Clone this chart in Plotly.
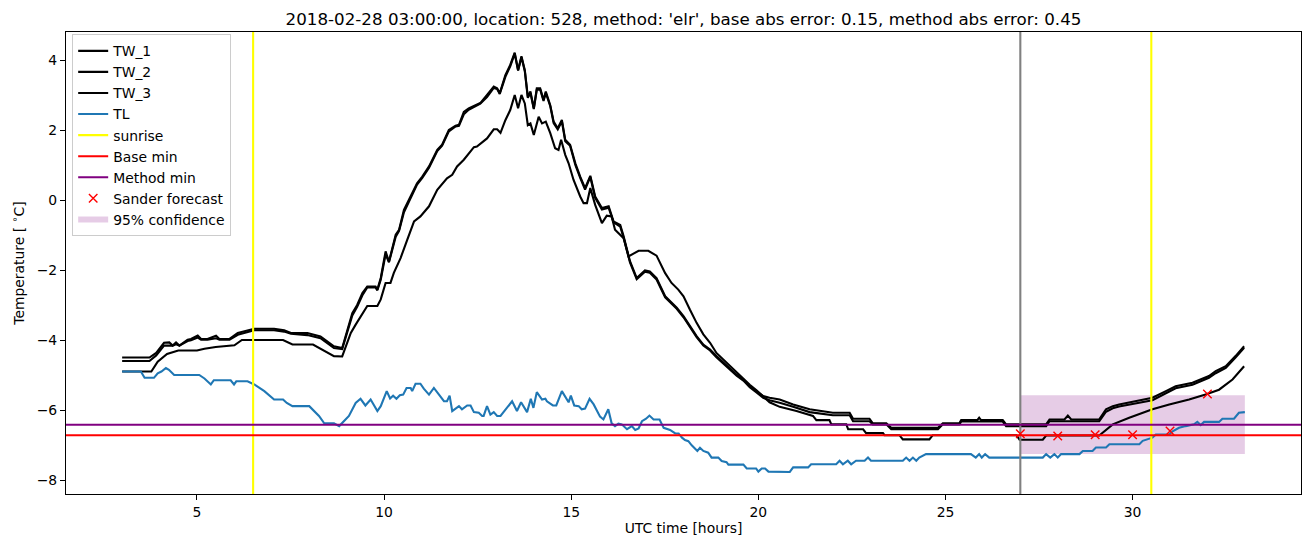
import plotly.graph_objects as go

# ---------------- data ----------------
tw12_time = [3.0, 3.73, 3.91, 4.12, 4.26, 4.35, 4.44, 4.53, 4.75, 4.84, 5.02, 5.11, 5.28, 5.51, 5.60, 5.87,
             6.09, 6.35, 6.53, 7.06, 7.33, 7.51, 7.95, 8.30, 8.66, 8.88, 9.02, 9.15, 9.28, 9.42, 9.55, 9.77,
             9.82, 9.91, 10.04, 10.13, 10.31, 10.40, 10.53, 10.71, 10.88, 11.02, 11.20, 11.42, 11.55, 11.73,
             11.91, 12.00, 12.13, 12.26, 12.44, 12.57, 12.75, 12.93, 13.02, 13.09, 13.24, 13.37, 13.49, 13.58,
             13.67, 13.76, 13.84, 13.91, 14.00, 14.08, 14.17, 14.26, 14.32, 14.44, 14.53, 14.64, 14.75, 14.84,
             14.97, 15.11, 15.24, 15.37, 15.51, 15.64, 15.82, 16.00, 16.13, 16.22, 16.31, 16.40, 16.57, 16.75,
             16.88, 16.97, 17.10, 17.28, 17.51, 17.60, 17.68, 17.82, 18.00, 18.17, 18.35, 18.53, 18.71, 18.88,
             19.24, 19.42, 19.60, 19.77, 19.95, 20.13, 20.30, 20.57, 20.93, 21.37, 21.99, 22.44, 22.53, 22.97,
             23.06, 23.42, 23.55, 24.80, 24.93, 25.37, 25.42, 25.85, 25.90, 25.95, 26.53, 26.62, 27.69, 27.78,
             28.18, 28.27, 28.36, 29.11, 29.29, 29.47, 29.64, 30.09, 30.53, 30.89, 31.15, 31.60, 32.04, 32.22,
             32.49, 32.75, 32.98]
tw1_vals = [-4.50, -4.50, -4.37, -4.08, -4.07, -4.16, -4.07, -4.16, -3.99, -3.97, -3.87, -3.97, -3.97, -3.88, -3.97, -3.97,
            -3.80, -3.72, -3.68, -3.68, -3.72, -3.80, -3.80, -3.90, -4.18, -4.23, -3.70, -3.23, -3.00, -2.66, -2.47, -2.47,
            -2.56, -2.23, -1.47, -1.76, -0.99, -0.85, -0.28, 0.10, 0.48, 0.67, 0.96, 1.43, 1.58, 2.00,
            2.12, 2.15, 2.52, 2.62, 2.72, 2.77, 3.00, 3.24, 3.19, 3.05, 3.57, 3.86, 4.21, 3.71,
            4.11, 3.71, 2.95, 3.10, 2.62, 3.19, 3.19, 2.86, 3.10, 2.71, 2.24, 2.05, 2.29, 1.72,
            1.58, 1.05, 0.67, 0.34, 0.69, 0.10, -0.23, -0.18, -0.61, -0.66, -0.71, -1.04, -1.75, -2.23,
            -2.10, -2.01, -2.04, -2.23, -2.75, -2.84, -2.94, -3.08, -3.32, -3.60, -3.89, -4.13, -4.27, -4.46,
            -4.80, -4.99, -5.13, -5.32, -5.46, -5.60, -5.65, -5.70, -5.84, -5.98, -6.08, -6.08, -6.25, -6.25,
            -6.38, -6.38, -6.51, -6.51, -6.38, -6.38, -6.29, -6.29, -6.22, -6.29, -6.29, -6.41, -6.41, -6.27,
            -6.27, -6.16, -6.27, -6.27, -5.98, -5.89, -5.84, -5.75, -5.65, -5.46, -5.32, -5.22, -5.03, -4.89,
            -4.75, -4.46, -4.18]
tw2_vals = [-4.60, -4.60, -4.44, -4.16, -4.16, -4.16, -4.12, -4.16, -4.03, -4.01, -3.93, -3.99, -3.99, -3.95, -3.99, -3.99,
            -3.85, -3.76, -3.72, -3.72, -3.76, -3.82, -3.86, -3.95, -4.23, -4.26, -3.78, -3.30, -3.05, -2.72, -2.50, -2.50,
            -2.58, -2.28, -1.55, -1.78, -1.05, -0.88, -0.35, 0.05, 0.44, 0.63, 0.92, 1.40, 1.55, 1.96,
            2.10, 2.12, 2.45, 2.58, 2.68, 2.75, 2.94, 3.20, 3.17, 3.03, 3.52, 3.82, 4.18, 3.70,
            4.08, 3.68, 2.92, 3.06, 2.60, 3.15, 3.16, 2.83, 3.06, 2.68, 2.20, 2.02, 2.25, 1.68,
            1.55, 1.00, 0.63, 0.30, 0.66, 0.06, -0.27, -0.22, -0.64, -0.70, -0.76, -1.08, -1.78, -2.26,
            -2.14, -2.05, -2.08, -2.27, -2.78, -2.87, -2.97, -3.11, -3.35, -3.63, -3.92, -4.16, -4.30, -4.49,
            -4.83, -5.02, -5.16, -5.35, -5.50, -5.65, -5.72, -5.79, -5.91, -6.06, -6.15, -6.15, -6.32, -6.32,
            -6.41, -6.41, -6.55, -6.55, -6.41, -6.41, -6.33, -6.33, -6.33, -6.33, -6.33, -6.46, -6.46, -6.32,
            -6.32, -6.32, -6.32, -6.32, -6.05, -5.95, -5.90, -5.80, -5.72, -5.52, -5.38, -5.28, -5.08, -4.95,
            -4.80, -4.50, -4.22]

tw3_time = [3.0, 3.78, 3.95, 4.20, 4.50, 5.00, 5.20, 5.50, 6.00, 6.20, 7.30, 7.55, 8.10, 8.30, 8.66, 8.88, 8.97,
            9.11, 9.24, 9.37, 9.55, 9.82, 9.91, 10.04, 10.17, 10.26, 10.44, 10.62, 10.80, 10.97, 11.20, 11.42,
            11.68, 11.82, 11.95, 12.13, 12.40, 12.48, 12.75, 12.93, 13.02, 13.11, 13.24, 13.37, 13.49, 13.58,
            13.67, 13.76, 13.84, 13.91, 14.00, 14.13, 14.22, 14.32, 14.44, 14.57, 14.66, 14.73, 14.84, 14.93,
            15.06, 15.24, 15.33, 15.42, 15.51, 15.64, 15.82, 15.95, 16.08, 16.17, 16.40, 16.53, 16.66, 16.80,
            17.06, 17.28, 17.51, 17.68, 17.86, 18.00, 18.17, 18.35, 18.53, 18.71, 18.88, 19.06, 19.24, 19.42,
            19.60, 19.77, 19.95, 20.13, 20.30, 20.57, 21.02, 21.46, 21.55, 21.90, 21.95, 22.35, 22.40, 22.80,
            22.88, 23.33, 23.37, 23.77, 23.86, 24.57, 24.66, 26.90, 26.98, 27.60, 27.69, 29.11, 29.47, 29.91,
            30.53, 30.98, 31.51, 31.95, 32.31, 32.67, 32.98]
tw3_vals = [-4.90, -4.90, -4.62, -4.40, -4.30, -4.30, -4.25, -4.20, -4.15, -4.00, -4.00, -4.13, -4.13, -4.25, -4.46, -4.47, -4.23,
            -3.80, -3.56, -3.32, -3.03, -3.03, -2.84, -2.37, -2.37, -2.08, -1.66, -1.13, -0.61, -0.47, -0.18, 0.29,
            0.62, 0.72, 0.96, 1.15, 1.51, 1.53, 1.76, 2.02, 2.02, 1.92, 2.28, 2.57, 3.00, 2.62,
            3.00, 2.76, 2.14, 2.19, 1.86, 2.38, 2.19, 2.24, 1.91, 1.48, 1.43, 1.72, 1.29, 1.05,
            0.58, 0.10, -0.09, -0.09, 0.34, -0.14, -0.66, -0.45, -0.47, -0.85, -1.09, -1.61, -1.54, -1.45,
            -1.45, -1.59, -2.09, -2.37, -2.56, -2.75, -3.13, -3.51, -3.84, -4.08, -4.37, -4.56, -4.75, -4.94,
            -5.10, -5.28, -5.44, -5.62, -5.78, -5.91, -6.03, -6.17, -6.29, -6.29, -6.41, -6.41, -6.55, -6.55,
            -6.66, -6.66, -6.72, -6.72, -6.84, -6.84, -6.72, -6.72, -6.85, -6.85, -6.73, -6.73, -6.41, -6.22,
            -5.98, -5.84, -5.70, -5.56, -5.42, -5.13, -4.75]

tl_time = [3.0, 3.5, 3.6, 3.85, 3.95, 4.05, 4.17, 4.25, 4.39, 5.06, 5.2, 5.37, 5.45, 5.9, 5.99, 6.05, 6.35, 6.53,
           6.8, 7.06, 7.3, 7.4, 7.55, 8.0, 8.26, 8.4, 8.66, 8.8, 9.06, 9.24, 9.37, 9.5, 9.64, 9.82, 9.91, 10.07,
           10.16, 10.24, 10.33, 10.42, 10.51, 10.6, 10.71, 10.75, 10.84, 10.97, 11.06, 11.2, 11.33, 11.46, 11.6,
           11.68, 11.75, 11.82, 12.0, 12.08, 12.22, 12.31, 12.4, 12.53, 12.62, 12.66, 12.75, 12.84, 12.93, 13.02,
           13.11, 13.42, 13.55, 13.66, 13.82, 13.92, 13.99, 14.08, 14.22, 14.31, 14.35, 14.51, 14.6, 14.75, 14.93,
           14.99, 15.08, 15.2, 15.28, 15.37, 15.49, 15.6, 15.77, 15.86, 15.99, 16.08, 16.17, 16.26, 16.35, 16.49,
           16.62, 16.71, 16.8, 16.89, 17.0, 17.09, 17.2, 17.36, 17.47, 17.64, 17.78, 17.87, 17.96, 18.04, 18.13,
           18.22, 18.31, 18.37, 18.44, 18.53, 18.66, 18.75, 18.93, 19.02, 19.15, 19.2, 19.6, 19.69, 19.94, 20.0,
           20.09, 20.18, 20.27, 20.84, 20.93, 21.33, 21.41, 22.08, 22.17, 22.26, 22.39, 22.48, 22.61, 22.84,
           22.93, 23.01, 23.86, 23.95, 24.04, 24.13, 24.22, 24.3, 24.48, 25.68, 25.81, 25.9, 25.97, 26.06, 26.17,
           27.6, 27.69, 27.8, 27.91, 28.0, 28.09, 28.58, 28.67, 28.93, 29.02, 29.29, 29.38, 30.18, 30.27, 30.53,
           30.62, 30.98, 31.07, 31.24, 31.42, 31.64, 31.73, 31.82, 31.91, 32.31, 32.4, 32.71, 32.84, 33.0]
tl_vals = [-4.9, -4.9, -5.08, -5.08, -4.95, -4.9, -4.8, -4.85, -5.0, -5.0, -5.1, -5.27, -5.15, -5.15, -5.27, -5.18, -5.18, -5.27,
           -5.46, -5.7, -5.7, -5.8, -5.89, -5.89, -6.17, -6.38, -6.38, -6.46, -6.17, -5.8, -5.68, -5.87, -5.7, -6.03, -5.89, -5.46,
           -5.67, -5.59, -5.68, -5.58, -5.56, -5.37, -5.37, -5.46, -5.25, -5.25, -5.39, -5.56, -5.37, -5.56, -5.75,
           -5.75, -5.59, -6.03, -5.89, -5.98, -5.87, -5.87, -6.06, -6.08, -6.17, -6.17, -5.89, -6.13, -6.06, -6.17,
           -6.17, -5.75, -6.03, -5.78, -6.06, -5.68, -5.94, -5.49, -5.70, -5.68, -5.75, -5.87, -5.87, -5.46, -5.78,
           -5.59, -5.87, -5.89, -5.98, -5.96, -5.68, -5.84, -6.19, -6.27, -5.98, -6.38, -6.46, -6.39, -6.41, -6.55,
           -6.46, -6.57, -6.53, -6.32, -6.25, -6.16, -6.27, -6.27, -6.51, -6.57, -6.67, -6.67, -6.79, -6.86, -6.89,
           -7.01, -7.11, -7.17, -7.08, -7.17, -7.22, -7.36, -7.36, -7.46, -7.49, -7.56, -7.56, -7.67, -7.67, -7.76,
           -7.67, -7.67, -7.76, -7.77, -7.64, -7.64, -7.55, -7.55, -7.45, -7.55, -7.45, -7.55, -7.45, -7.45,
           -7.36, -7.45, -7.45, -7.36, -7.45, -7.36, -7.45, -7.36, -7.26, -7.26, -7.36, -7.26, -7.36, -7.26, -7.36,
           -7.36, -7.26, -7.36, -7.26, -7.36, -7.26, -7.26, -7.17, -7.17, -7.07, -7.07, -6.98, -6.98, -6.88, -6.79,
           -6.70, -6.70, -6.61, -6.51, -6.46, -6.41, -6.34, -6.43, -6.34, -6.34, -6.25, -6.25, -6.08, -6.06]

sunrise_hours = [6.5, 30.5]
forecast_hour = 27.0
base_min = -6.72
method_min = -6.42
sander_hours = [27, 28, 29, 30, 31, 32]
sander_vals = [-6.68, -6.74, -6.71, -6.71, -6.60, -5.54]
conf_hours = [27.0, 33.0]
conf_low = -7.26
conf_high = -5.58

x_range = [1.5, 34.5]
y_range = [-8.4, 4.8]
x_ticks = [5, 10, 15, 20, 25, 30]
y_ticks = [-8, -6, -4, -2, 0, 2, 4]

title_text = "2018-02-28 03:00:00, location: 528, method: 'elr', base abs error: 0.15, method abs error: 0.45"

# ---------------- figure ----------------
FONT = "DejaVu Sans"
LW = 2.1
fig = go.Figure()

# confidence band (patch, below lines)
fig.add_trace(go.Scatter(
    x=[conf_hours[0], conf_hours[1], conf_hours[1], conf_hours[0], conf_hours[0]],
    y=[conf_low, conf_low, conf_high, conf_high, conf_low],
    fill="toself", fillcolor="rgba(128,0,128,0.2)", mode="none",
    name="95% confidence", legendrank=9, showlegend=True, hoverinfo="skip"))

for name, t, v, rank in [("TW_1", tw12_time, tw1_vals, 1), ("TW_2", tw12_time, tw2_vals, 2),
                         ("TW_3", tw3_time, tw3_vals, 3)]:
    fig.add_trace(go.Scatter(x=t, y=v, mode="lines", name=name, legendrank=rank,
                             line=dict(color="black", width=LW)))

fig.add_trace(go.Scatter(x=tl_time, y=tl_vals, mode="lines", name="TL", legendrank=4,
                         line=dict(color="#1f77b4", width=LW)))

sx, sy = [], []
for h in sunrise_hours:
    sx += [h, h, None]
    sy += [y_range[0], y_range[1], None]
fig.add_trace(go.Scatter(x=sx, y=sy, mode="lines", name="sunrise", legendrank=5,
                         line=dict(color="yellow", width=LW)))

fig.add_trace(go.Scatter(x=[forecast_hour, forecast_hour], y=y_range, mode="lines",
                         showlegend=False, line=dict(color="grey", width=LW)))

fig.add_trace(go.Scatter(x=x_range, y=[base_min, base_min], mode="lines", name="Base min",
                         legendrank=6, line=dict(color="red", width=LW)))
fig.add_trace(go.Scatter(x=x_range, y=[method_min, method_min], mode="lines", name="Method min",
                         legendrank=7, line=dict(color="purple", width=LW)))

fig.add_trace(go.Scatter(x=sander_hours, y=sander_vals, mode="markers", name="Sander forecast",
                         legendrank=8,
                         marker=dict(symbol="x-thin", size=8.5, color="red",
                                     line=dict(color="red", width=1.4))))

axis_common = dict(showline=True, linecolor="black", linewidth=1.1, mirror=True,
                   ticks="outside", ticklen=5, tickwidth=1.1, tickcolor="black",
                   showgrid=False, zeroline=False,
                   tickfont=dict(family=FONT, size=13.9, color="black"))

# page body adds an 8px offset, so the figure is 8px smaller and margins are shifted
fig.update_layout(
    width=1305, height=539,
    margin=dict(l=57, r=11, t=24, b=53),
    paper_bgcolor="white", plot_bgcolor="white",
    font=dict(family=FONT, size=13.9, color="black"),
    title=dict(text=title_text, x=0.5, xref="paper", xanchor="center",
               y=1, yref="paper", yanchor="bottom", pad=dict(b=7),
               font=dict(family=FONT, size=16.7, color="black")),
    xaxis=dict(range=x_range, tickvals=x_ticks,
               title=dict(text="UTC time [hours]", standoff=4,
                          font=dict(family=FONT, size=13.9, color="black")),
               **axis_common),
    yaxis=dict(range=y_range, tickvals=y_ticks,
               title=dict(text="Temperature [ <sup>∘</sup>C]", standoff=8,
                          font=dict(family=FONT, size=13.9, color="black")),
               **axis_common),
    legend=dict(x=0.005, y=0.995, xanchor="left", yanchor="top",
                bgcolor="rgba(255,255,255,0.8)", bordercolor="#cccccc", borderwidth=1,
                font=dict(family=FONT, size=13.9, color="black"),
                traceorder="normal", itemwidth=30),
    showlegend=True,
)

fig.write_html("out.html")
